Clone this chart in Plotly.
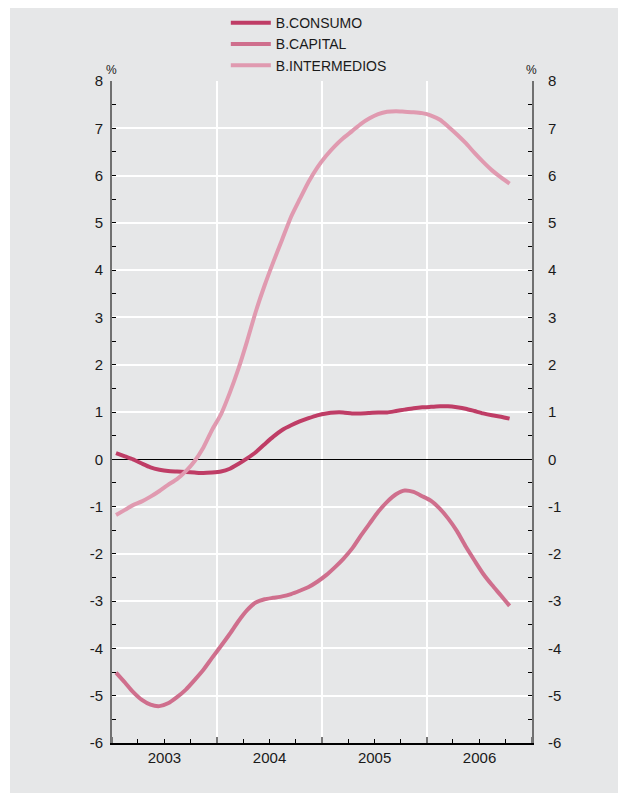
import pandas as pd
import plotly.graph_objects as go

# monthly observations, Jan 2003 - Oct 2006 (plotted at mid-month)
months = pd.date_range("2003-01-01", periods=46, freq="MS") + pd.Timedelta(days=14)

consumo = [0.13, 0.06, 0.00, -0.09, -0.17, -0.22, -0.25, -0.26, -0.27, -0.28,
           -0.29, -0.28, -0.26, -0.20, -0.10, 0.02, 0.15, 0.32, 0.48, 0.62,
           0.72, 0.80, 0.87, 0.93, 0.97, 0.99, 0.99, 0.97, 0.97, 0.98,
           0.99, 0.99, 1.02, 1.05, 1.08, 1.10, 1.11, 1.12, 1.12, 1.10,
           1.07, 1.02, 0.97, 0.93, 0.90, 0.86]

capital = [-4.51, -4.72, -4.92, -5.09, -5.19, -5.22, -5.16, -5.03, -4.87, -4.67,
           -4.45, -4.20, -3.95, -3.69, -3.43, -3.19, -3.03, -2.96, -2.93, -2.90,
           -2.85, -2.78, -2.70, -2.59, -2.45, -2.28, -2.11, -1.89, -1.62, -1.36,
           -1.11, -0.90, -0.74, -0.66, -0.69, -0.78, -0.88, -1.05, -1.25, -1.52,
           -1.84, -2.14, -2.42, -2.66, -2.88, -3.10]

intermedios = [-1.18, -1.07, -0.97, -0.89, -0.79, -0.67, -0.54, -0.42, -0.25, -0.04,
               0.25, 0.62, 0.95, 1.41, 1.90, 2.50, 3.12, 3.68, 4.17, 4.65,
               5.13, 5.50, 5.87, 6.17, 6.42, 6.63, 6.79, 6.94, 7.09, 7.21,
               7.30, 7.35, 7.36, 7.35, 7.34, 7.32, 7.27, 7.18, 7.04, 6.87,
               6.69, 6.48, 6.29, 6.11, 5.96, 5.83]

series_names = ["B.CONSUMO", "B.CAPITAL", "B.INTERMEDIOS"]
series_values = [consumo, capital, intermedios]
series_colors = ["#bf3d66", "#cf6f8d", "#e09ab0"]

y_tickvals = list(range(-6, 9))
y_ticktext = [str(v) for v in y_tickvals]  # plain hyphen-minus as in the original

FONT = "Liberation Sans, Arial, sans-serif"
BG = "#e6e7e8"

fig = go.Figure()
for name, vals, col in zip(series_names, series_values, series_colors):
    fig.add_trace(go.Scatter(x=months, y=vals, name=name, mode="lines",
                             line=dict(color=col, width=4, shape="spline", smoothing=0.6)))
# trace on the right-hand axis so that it is drawn
fig.add_trace(go.Scatter(x=[months[0]], y=[None], yaxis="y2", showlegend=False,
                         hoverinfo="skip", mode="lines"))

yaxis_common = dict(range=[-6, 8], tickmode="array", tickvals=y_tickvals,
                    ticktext=y_ticktext, ticks="inside", ticklen=4, tickwidth=1,
                    tickcolor="black", showline=True, linecolor="#707070", linewidth=2,
                    tickfont=dict(size=15, color="#1a1a1a"),
                    minor=dict(dtick=0.5, tick0=0, ticks="inside", ticklen=4,
                               tickwidth=1, tickcolor="black", showgrid=False))

fig.update_layout(
    width=618, height=785, autosize=False,
    margin=dict(l=104, r=94, t=73, b=50, autoexpand=False),
    paper_bgcolor="white", plot_bgcolor=BG,
    font=dict(family=FONT, color="#1a1a1a", size=14),
    showlegend=True,
    legend=dict(x=0.271, y=1.1115, xanchor="left", yanchor="top",
                bgcolor="rgba(0,0,0,0)", font=dict(size=14, color="#1a1a1a"),
                itemwidth=40, tracegroupgap=0),
    xaxis=dict(type="date", range=["2003-01-01", "2007-01-01"],
               tick0="2003-01-01", dtick="M12", tickformat="%Y",
               ticklabelmode="period", ticks="inside", ticklen=6, tickwidth=2,
               tickcolor="#777777", showgrid=True, gridcolor="white", gridwidth=2,
               showline=True, linecolor="black", linewidth=2, zeroline=False,
               tickfont=dict(size=15, color="#1a1a1a"),
               minor=dict(dtick="M3", tick0="2003-01-01", ticks="inside", ticklen=4,
                          tickwidth=1, tickcolor="black", showgrid=False)),
    yaxis=dict(**yaxis_common, showgrid=True, gridcolor="white", gridwidth=2,
               zeroline=True, zerolinecolor="black", zerolinewidth=1,
               ticklabelstandoff=4),
    yaxis2=dict(**yaxis_common, overlaying="y", side="right", showgrid=False,
                zeroline=False, ticklabelstandoff=11),
    shapes=[dict(type="rect", xref="paper", yref="paper", x0=-0.2429, x1=1.2238,
                 y0=-0.0755, y1=1.1103, fillcolor=BG, line=dict(width=0),
                 layer="below")],
    annotations=[
        dict(text="%", xref="paper", yref="paper", x=-0.002, y=1.0, yanchor="bottom",
             xanchor="center", showarrow=False, font=dict(size=12, color="#1a1a1a"), yshift=2),
        dict(text="%", xref="paper", yref="paper", x=0.998, y=1.0, yanchor="bottom",
             xanchor="center", showarrow=False, font=dict(size=12, color="#1a1a1a"), yshift=2),
    ],
)

fig.write_html("out.html")
